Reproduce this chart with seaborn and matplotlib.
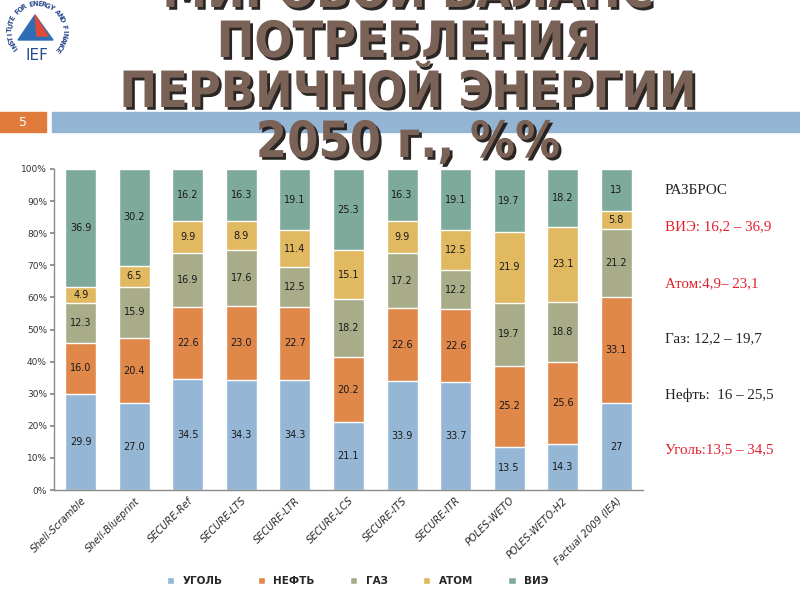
import numpy as np
import pandas as pd
import matplotlib
matplotlib.use("Agg")
import matplotlib.pyplot as plt
import matplotlib.patheffects as pe
import matplotlib.transforms as mtransforms
from matplotlib.patches import Rectangle, Polygon
import seaborn as sns

sns.set_theme(style="white")
plt.rcParams["font.family"] = ["DejaVu Sans"]

scenarios = ["Shell-Scramble", "Shell-Blueprint", "SECURE-Ref", "SECURE-LTS", "SECURE-LTR",
             "SECURE-LCS", "SECURE-ITS", "SECURE-ITR", "POLES-WETO", "POLES-WETO-H2",
             "Factual 2009 (IEA)"]
sources = ["УГОЛЬ", "НЕФТЬ", "ГАЗ", "АТОМ", "ВИЭ"]
coal = [29.9, 27.0, 34.5, 34.3, 34.3, 21.1, 33.9, 33.7, 13.5, 14.3, 27]
oil = [16.0, 20.4, 22.6, 23.0, 22.7, 20.2, 22.6, 22.6, 25.2, 25.6, 33.1]
gas = [12.3, 15.9, 16.9, 17.6, 12.5, 18.2, 17.2, 12.2, 19.7, 18.8, 21.2]
nuclear = [4.9, 6.5, 9.9, 8.9, 11.4, 15.1, 9.9, 12.5, 21.9, 23.1, 5.8]
renew = [36.9, 30.2, 16.2, 16.3, 19.1, 25.3, 16.3, 19.1, 19.7, 18.2, 13]
colors = ["#95b7d5", "#e0874a", "#a9ac88", "#e0b960", "#7eaa9c"]

title_lines = ["МИРОВОЙ БАЛАНС", "ПОТРЕБЛЕНИЯ", "ПЕРВИЧНОЙ ЭНЕРГИИ", "2050 г., %%"]
spread_lines = ["РАЗБРОС", "ВИЭ: 16,2 – 36,9", "Атом:4,9– 23,1", "Газ: 12,2 – 19,7",
                "Нефть:  16 – 25,5", "Уголь:13,5 – 34,5"]
spread_colors = ["#222222", "#e3202c", "#e3202c", "#222222", "#222222", "#e3202c"]

# long table, 100% stacked
rows = []
for src, vals in zip(sources, [coal, oil, gas, nuclear, renew]):
    for sc, v in zip(scenarios, vals):
        rows.append({"scenario": sc, "source": src, "value": v})
df = pd.DataFrame(rows)
df["total"] = df.groupby("scenario")["value"].transform("sum")
df["share"] = df["value"] / df["total"] * 100
df["source"] = pd.Categorical(df["source"], categories=sources, ordered=True)
df["scenario"] = pd.Categorical(df["scenario"], categories=scenarios, ordered=True)
df = df.sort_values(["scenario", "source"])
df["cum"] = df.groupby("scenario", observed=True)["share"].cumsum()
df["mid"] = df["cum"] - df["share"] / 2

W, H = 800, 600
def px(x, y):
    return x / W, 1 - y / H

fig = plt.figure(figsize=(8, 6), dpi=100)
ax = fig.add_axes([54 / W, 1 - 490 / H, 589 / W, 321 / H])

for src, col in reversed(list(zip(sources, colors))):
    sub = df[df["source"] == src]
    sns.barplot(data=sub, x="scenario", y="cum", color=col, saturation=1,
                width=0.58, ax=ax, label=src, order=scenarios)

for _, r in df.iterrows():
    i = scenarios.index(r["scenario"])
    if r["scenario"] == "Factual 2009 (IEA)":
        txt = f"{r['value']:g}"
    else:
        txt = f"{r['value']:.1f}"
    ax.text(i, r["mid"], txt, ha="center", va="center", fontsize=7, color="#1a1a1a")

if ax.get_legend() is not None:
    ax.get_legend().remove()

ax.set_xlim(-0.5, 10.5)
ax.set_ylim(0, 100)
ax.set_yticks(range(0, 101, 10))
ax.set_yticklabels([f"{t}%" for t in range(0, 101, 10)], fontsize=6.5, color="#333333")
ax.set_xlabel("")
ax.set_ylabel("")
offset = mtransforms.ScaledTranslation(11 / 100, 0, fig.dpi_scale_trans)
ax.set_xticks(range(len(scenarios)))
ax.set_xticklabels(scenarios, rotation=45, ha="right", rotation_mode="anchor",
                   fontsize=7, fontstyle="italic", color="#2a2a2a")
for lab in ax.get_xticklabels():
    lab.set_transform(lab.get_transform() + offset)
ax.tick_params(axis="y", length=3, color="#888888", pad=2, left=True)
ax.tick_params(axis="x", length=0, pad=4)
for s in ["top", "right"]:
    ax.spines[s].set_visible(False)
for s in ["left", "bottom"]:
    ax.spines[s].set_color("#8a8a8a")
    ax.spines[s].set_linewidth(1)

# legend
handles, labels = ax.get_legend_handles_labels()
hmap = dict(zip(labels, handles))
fig.legend([hmap[s] for s in sources], sources, loc="center", bbox_to_anchor=(0.447, 0.032),
           ncol=5, frameon=False, handlelength=0.7, handleheight=0.7, columnspacing=3.4,
           handletextpad=0.8, prop={"weight": "bold", "size": 7.5})

# header band
fig.patches.append(Rectangle(px(0, 132), 46 / W, 20 / H, transform=fig.transFigure,
                             color="#e07b3c", zorder=1))
fig.patches.append(Rectangle(px(52, 132), 748 / W, 20 / H, transform=fig.transFigure,
                             color="#93b4d2", zorder=1))
fig.text(*px(23, 122), "5", ha="center", va="center", color="white", fontsize=9)

# title (top line is cut by the slide edge, as in the original)
for line, yc in zip(title_lines, [-7, 43, 93, 143]):
    fig.text(*px(408, yc), line, ha="center", va="center", fontsize=36, weight="bold",
             fontstretch="condensed", color="#7b6257", zorder=5,
             path_effects=[pe.SimplePatchShadow(offset=(2, -2), shadow_rgbFace="#1e1a18", alpha=0.95),
                           pe.Normal()])

# spread notes
for line, yc, col in zip(spread_lines, [190, 227, 284, 339, 395, 450], spread_colors):
    fig.text(*px(665, yc), line, ha="left", va="center", fontsize=10.8, color=col,
             family=["Liberation Serif", "DejaVu Serif"])

# logo
cx, cy, rad = 37, 31, 27
logo_text = "INSTITUTE FOR ENERGY AND FINANCE"
for ch, a in zip(logo_text, np.linspace(220, -42, len(logo_text))):
    x = cx + rad * np.cos(np.radians(a))
    y = cy - rad * np.sin(np.radians(a))
    fig.text(*px(x, y), ch, rotation=a - 90, ha="center", va="center", fontsize=4.8,
             weight="bold", color="#2b4b8e")
fig.patches.append(Polygon([px(18, 40), px(35, 15), px(53, 40)], closed=True,
                           transform=fig.transFigure, color="#2f6db5", zorder=2))
for x0, x1 in [(37, 40), (41, 44), (45, 48)]:
    fig.patches.append(Polygon([px(35, 15), px(x0, 36), px(x1, 36)], closed=True,
                               transform=fig.transFigure, color="#e04a3a", zorder=3))
fig.text(*px(37, 55), "IEF", ha="center", va="center", fontsize=11, color="#2b4b8e")

fig.savefig("out.png", dpi=100)
